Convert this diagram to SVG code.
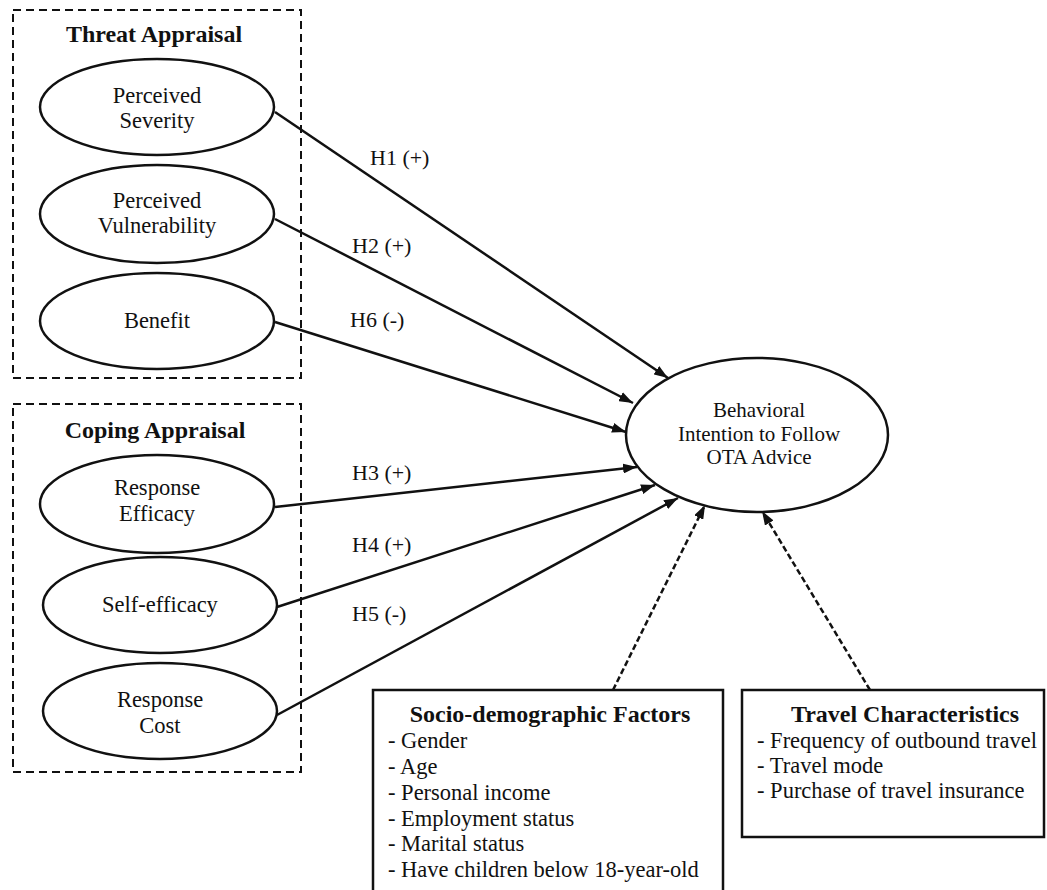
<svg xmlns="http://www.w3.org/2000/svg" width="1047" height="890" viewBox="0 0 1047 890">
<style>
text{font-family:"Liberation Serif","Times New Roman",serif;fill:#111}
.t{font-size:22.5px;text-anchor:middle}
.tb{font-size:21px;text-anchor:middle}
.b{font-size:24px;font-weight:bold;text-anchor:middle}
.l{font-size:22.5px}
.h{font-size:22px}
.grp{fill:none;stroke:#111;stroke-width:2;stroke-dasharray:8 5}
.node{fill:#fff;stroke:#111;stroke-width:2.5}
.box{fill:#fff;stroke:#111;stroke-width:2.5}
.c{fill:none;stroke:#111;stroke-width:2.5}
.d{fill:none;stroke:#111;stroke-width:2.5;stroke-dasharray:6 3}
</style>
<defs>
<marker id="ah" viewBox="0 0 14 10" refX="14" refY="5" markerWidth="14" markerHeight="10" markerUnits="userSpaceOnUse" orient="auto">
<path d="M0,0 L14,5 L0,10 z" fill="#111"/>
</marker>
</defs>
<rect width="1047" height="890" fill="#fff"/>
<g id="threat-appraisal">
<rect class="grp" x="13" y="10" width="288" height="368"/>
<text class="b" x="154" y="42">Threat Appraisal</text>
</g>
<g id="coping-appraisal">
<rect class="grp" x="13" y="404" width="288" height="368"/>
<text class="b" x="155" y="438">Coping Appraisal</text>
</g>
<g id="connectors">
<line class="c" x1="275" y1="112" x2="668" y2="378" marker-end="url(#ah)"/>
<line class="c" x1="275" y1="219" x2="633" y2="403" marker-end="url(#ah)"/>
<line class="c" x1="275" y1="322" x2="626" y2="432" marker-end="url(#ah)"/>
<line class="c" x1="275" y1="507" x2="637" y2="467" marker-end="url(#ah)"/>
<line class="c" x1="277" y1="607" x2="655" y2="485" marker-end="url(#ah)"/>
<line class="c" x1="277" y1="715" x2="678" y2="498" marker-end="url(#ah)"/>
<line class="d" x1="613" y1="690" x2="705" y2="505" marker-end="url(#ah)"/>
<line class="d" x1="870" y1="690" x2="762" y2="511" marker-end="url(#ah)"/>
<text class="h" x="370" y="165">H1 (+)</text>
<text class="h" x="352" y="253">H2 (+)</text>
<text class="h" x="350" y="327">H6 (-)</text>
<text class="h" x="352" y="480">H3 (+)</text>
<text class="h" x="352" y="552">H4 (+)</text>
<text class="h" x="352" y="621">H5 (-)</text>
</g>
<g id="perceived-severity">
<ellipse class="node" cx="157" cy="107" rx="117" ry="48"/>
<text class="t" x="157" y="103">Perceived</text>
<text class="t" x="157" y="128">Severity</text>
</g>
<g id="perceived-vulnerability">
<ellipse class="node" cx="157" cy="214" rx="117" ry="49"/>
<text class="t" x="157" y="208">Perceived</text>
<text class="t" x="157" y="233">Vulnerability</text>
</g>
<g id="benefit">
<ellipse class="node" cx="157" cy="321" rx="117" ry="48"/>
<text class="t" x="157" y="328">Benefit</text>
</g>
<g id="response-efficacy">
<ellipse class="node" cx="157" cy="504" rx="117" ry="49"/>
<text class="t" x="157" y="495">Response</text>
<text class="t" x="157" y="521">Efficacy</text>
</g>
<g id="self-efficacy">
<ellipse class="node" cx="160" cy="605" rx="117" ry="48"/>
<text class="t" x="160" y="612">Self-efficacy</text>
</g>
<g id="response-cost">
<ellipse class="node" cx="160" cy="711" rx="117" ry="48"/>
<text class="t" x="160" y="707">Response</text>
<text class="t" x="160" y="733">Cost</text>
</g>
<g id="behavioral-intention">
<ellipse class="node" cx="757" cy="435" rx="131" ry="77"/>
<text class="tb" x="759" y="417">Behavioral</text>
<text class="tb" x="759" y="440.5">Intention to Follow</text>
<text class="tb" x="759" y="464">OTA Advice</text>
</g>
<g id="socio-demographic">
<rect class="box" x="373" y="690" width="350" height="215"/>
<text class="b" x="550" y="722">Socio-demographic Factors</text>
<text class="l" x="388" y="748">- Gender</text>
<text class="l" x="388" y="774">- Age</text>
<text class="l" x="388" y="800">- Personal income</text>
<text class="l" x="388" y="826">- Employment status</text>
<text class="l" x="388" y="851">- Marital status</text>
<text class="l" x="388" y="877">- Have children below 18-year-old</text>
</g>
<g id="travel-characteristics">
<rect class="box" x="742" y="690" width="302" height="147"/>
<text class="b" x="905" y="722">Travel Characteristics</text>
<text class="l" x="757" y="748">- Frequency of outbound travel</text>
<text class="l" x="757" y="773">- Travel mode</text>
<text class="l" x="757" y="798">- Purchase of travel insurance</text>
</g>
</svg>
